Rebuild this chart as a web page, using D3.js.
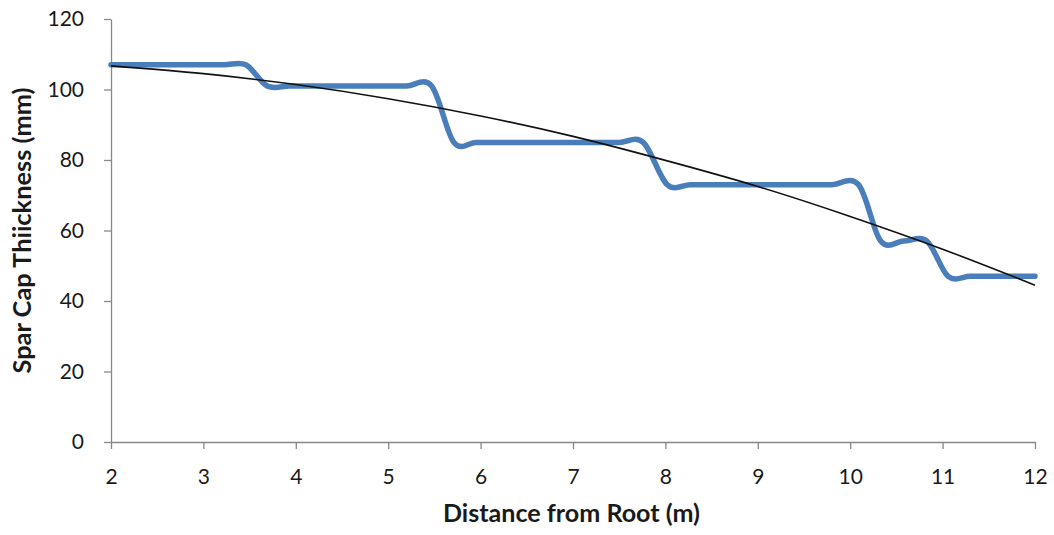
<!DOCTYPE html>
<html>
<head>
<meta charset="utf-8">
<script src="https://cdn.jsdelivr.net/npm/d3@7"></script>
<style>
  body { margin: 0; background: #fff; }
  svg { font-family: Lato, "Noto Sans", sans-serif; }
</style>
</head>
<body>
<svg></svg>
<script>
// thickness (mm) at stations along the blade (m)
let distance = [2, 2.25, 2.5, 2.75, 3, 3.23, 3.46,
                3.69, 3.93, 4.18, 4.43, 4.68, 4.93, 5.2, 5.47,
                5.71, 5.95, 6.2, 6.45, 6.7, 6.95, 7.2, 7.5, 7.76,
                8.02, 8.27, 8.52, 8.77, 9.02, 9.27, 9.52, 9.8, 10.09,
                10.33, 10.58, 10.83,
                11.06, 11.3, 11.55, 11.8, 12]
let thickness = [107, 107, 107, 107, 107, 107, 107,
                 101, 101, 101, 101, 101, 101, 101, 101,
                 85, 85, 85, 85, 85, 85, 85, 85, 85,
                 73, 73, 73, 73, 73, 73, 73, 73, 73,
                 57, 57, 57,
                 47, 47, 47, 47, 47]
// trend line at whole metres
let trendX = [2, 3, 4, 5, 6, 7, 8, 9, 10, 11, 12]
let trendY = [106.7, 104.5, 101.4, 97.4, 92.5, 86.7, 79.9, 72.5, 64.0, 54.7, 44.5]
let xTicks = [2, 3, 4, 5, 6, 7, 8, 9, 10, 11, 12]
let yTicks = [0, 20, 40, 60, 80, 100, 120]

let width = 1054
let height = 535
let margin = {left: 111, right: 19, top: 19, bottom: 93}

let svg = d3.select("svg")
svg.attr("width", width).attr("height", height)

let xScale = d3.scaleLinear()
               .domain([2, 12])
               .range([margin.left, width - margin.right])
let yScale = d3.scaleLinear()
               .domain([0, 120])
               .range([height - margin.bottom, margin.top])

// axes
let xAxis = d3.axisBottom(xScale).tickValues(xTicks).tickSize(7).tickSizeOuter(0).tickPadding(20)
let yAxis = d3.axisLeft(yScale).tickValues(yTicks).tickSize(7).tickSizeOuter(0).tickPadding(20)

svg.append("g")
   .attr("transform", "translate(0," + yScale(0) + ")")
   .call(xAxis)
svg.append("g")
   .attr("transform", "translate(" + xScale(2) + ",0)")
   .call(yAxis)

svg.selectAll(".domain, .tick line").attr("stroke", "#888888").attr("stroke-width", 1.3)
svg.selectAll(".tick text")
   .attr("font-family", "Lato, 'Noto Sans', sans-serif")
   .attr("font-size", 21)
   .attr("fill", "#1a1a1a")

// blue thickness curve (smoothed like the spreadsheet line)
let points = distance.map((d, i) => [d, thickness[i]])
let line = d3.line()
             .x(p => xScale(p[0]))
             .y(p => yScale(p[1]))
             .curve(d3.curveCardinal.tension(0))

svg.append("path")
   .datum(points)
   .attr("d", line)
   .attr("fill", "none")
   .attr("stroke", "#4a7ebb")
   .attr("stroke-width", 5.5)
   .attr("stroke-linecap", "round")
   .attr("stroke-linejoin", "round")

// black trend line
let trend = trendX.map((d, i) => [d, trendY[i]])
let trendLine = d3.line()
                  .x(p => xScale(p[0]))
                  .y(p => yScale(p[1]))
                  .curve(d3.curveNatural)
svg.append("path")
   .datum(trend)
   .attr("d", trendLine)
   .attr("fill", "none")
   .attr("stroke", "#111111")
   .attr("stroke-width", 1.6)

// axis titles
svg.append("text")
   .attr("x", 571.5)
   .attr("y", 522)
   .attr("text-anchor", "middle")
   .attr("font-weight", "bold")
   .attr("font-size", 25)
   .attr("fill", "#1a1a1a")
   .attr("textLength", 257)
   .attr("lengthAdjust", "spacingAndGlyphs")
   .text("Distance from Root (m)")

svg.append("text")
   .attr("transform", "translate(31," + yScale(60) + ") rotate(-90)")
   .attr("text-anchor", "middle")
   .attr("font-weight", "bold")
   .attr("font-size", 25)
   .attr("fill", "#1a1a1a")
   .attr("textLength", 286)
   .attr("lengthAdjust", "spacingAndGlyphs")
   .text("Spar Cap Thiickness (mm)")
</script>
</body>
</html>
